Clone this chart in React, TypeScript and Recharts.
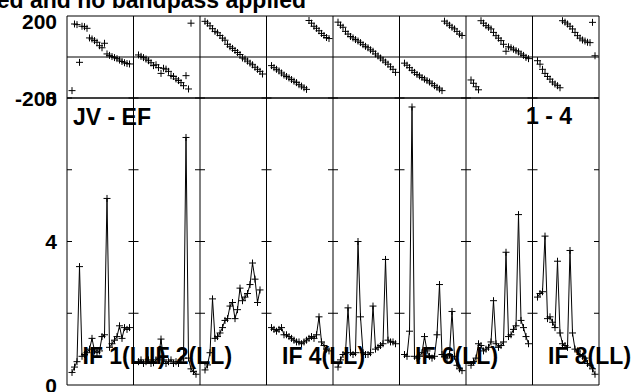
import React from 'react';
import { ComposedChart, Line, XAxis, YAxis, ReferenceLine } from 'recharts';

// ---- data ----
const IF_NAMES = ['IF 1(LL)', 'IF 2(LL)', 'IF 3(LL)', 'IF 4(LL)', 'IF 5(LL)', 'IF 6(LL)', 'IF 7(LL)', 'IF 8(LL)'];
const SHOWN_IF_LABELS = [0, 1, 3, 5, 7];
const BASELINE_LABEL = 'JV - EF';
const STOKES_LABEL = '1 - 4';
const TITLE_TEXT = 'ed and no bandpass applied';
const AMP_TICKS = [0, 4, 8];
const PHASE_TICKS = [-200, 200];

const AMP_IF1 = [0.35, 0.5, 0.65, 3.3, 0.8, 0.85, 0.9, 1.0, 1.3, 0.95, 0.9, 0.95, 1.35, 1.4, 5.2, 1.05, 1.15, 1.25, 1.35, 1.65, 1.3, 1.6, 1.55, 1.6];
const AMP_IF2 = [0.65, 0.7, 0.6, 0.65, 0.7, 0.6, 0.62, 0.7, 0.75, 1.28, 0.7, 0.6, 0.65, 0.7, 0.6, 0.65, 0.6, 0.7, 0.75, 6.9, 0.75, 0.45, 0.38, 0.3];
const AMP_IF3 = [0.42, 0.56, 0.9, 2.4, 1.3, 1.35, 1.45, 1.6, 1.8, 1.85, 2.2, 2.3, 1.85, 2.1, 2.7, 2.35, 2.45, 2.55, 2.8, 3.4, 2.95, 2.3, 2.65, null];
const AMP_IF4 = [1.6, 1.55, 1.5, 1.55, 1.6, 1.4, 1.4, 1.35, 1.3, 1.25, 1.2, 1.2, 1.15, 1.2, 1.25, 1.3, 1.35, 1.3, 1.4, 1.9, 1.2, 1.1, 1.0, 0.95];
const AMP_IF5 = [0.5, 0.7, 0.85, 0.9, 2.15, 0.9, 0.85, 0.9, 4.0, 1.9, 0.9, 0.85, 0.85, 0.9, 2.2, 1.0, 1.05, 1.1, 1.15, 3.5, 1.25, 1.2, 1.2, 1.15];
const AMP_IF6 = [0.85, 0.8, 1.5, 7.75, 0.8, 0.75, 0.8, 0.9, 1.35, 0.95, 0.8, 0.75, 0.8, 1.4, 2.8, 0.85, 0.8, 0.75, 0.85, 2.05, 0.8, 0.55, 0.45, 0.4];
const AMP_IF7 = [0.55, 0.65, 0.75, 1.15, 1.1, 0.95, 1.0, 1.05, 1.2, 2.35, 1.15, 1.05, 1.1, 1.2, 3.7, 1.35, 1.4, 1.55, 1.65, 4.75, 1.8, 1.6, 1.35, 1.15];
const AMP_IF8 = [2.45, 2.55, 2.6, 4.15, 1.85, 1.9, 1.75, 1.6, 3.45, 1.45, 1.15, 1.1, 1.05, 3.75, 1.45, 1.0, 0.95, 0.85, 0.8, 0.75, 0.6, 0.55, 0.45, 0.3];

const PH_IF1 = [-164, 161, 158, -26, 150, 148, 140, 93, 88, 80, 72, 55, 45, 67, 15, 8, 2, -3, -8, -15, -22, -28, -32, -34];
const PH_IF2 = [10, 3, -3, -10, -18, -28, -42, -38, -52, -80, -55, -59, -70, -91, -95, -107, -115, -125, -140, -91, -156, 165, null, null];
const PH_IF3 = [174, 165, 152, 138, 125, 118, 105, 92, 82, 62, 50, 42, 32, 22, 12, -5, -10, -20, -30, -38, -50, -60, -70, -83];
const PH_IF4 = [-42, -52, -60, -68, -78, -88, -95, -102, -110, -118, -125, -135, -142, -150, -158, 178, 165, 150, 140, 128, 115, 105, 95, 90];
const PH_IF5 = [170, 155, 145, 125, 112, 100, 93, 85, 78, 70, 60, 52, 45, 35, 28, 15, 5, -5, -15, -25, -35, -48, -60, -75];
const PH_IF6 = [-30, -40, -52, -65, -75, -85, -92, -100, -108, -115, -122, -130, -140, -148, -156, -164, 175, 165, 155, 145, 137, 125, 112, 105];
const PH_IF7 = [-112, -128, -145, -160, 177, 165, 153, 145, 137, 120, 104, 92, 80, 62, 28, 50, 45, 38, 31, 25, 15, 8, -2, -8];
const PH_IF8 = [-18, -35, -60, -80, -95, -108, -122, -132, -140, -150, 177, 170, 161, 150, 137, 120, 104, 92, 83, 78, 72, 70, 169, 6];

const AMP = [AMP_IF1, AMP_IF2, AMP_IF3, AMP_IF4, AMP_IF5, AMP_IF6, AMP_IF7, AMP_IF8];
const PHASE = [PH_IF1, PH_IF2, PH_IF3, PH_IF4, PH_IF5, PH_IF6, PH_IF7, PH_IF8];

// ---- layout ----
const W = 636;
const H = 392;
const N_IF = 8;
const PANEL = 26.6; // x units per IF panel
const CH0 = 2; // first channel position inside a panel
const XMAX = N_IF * PANEL;
const PANEL_TICKS = [8, 16, 24];
const X_TICKS = Array.from({ length: N_IF }, (_, i) => PANEL_TICKS.map((t) => i * PANEL + t)).flat();
const DIVIDERS = Array.from({ length: N_IF + 1 }, (_, i) => i * PANEL);
const FONT = "'Liberation Sans', Arial, Helvetica, sans-serif";

const series = (vals: (number | null)[], i: number) =>
  vals.map((v, c) => ({ x: i * PANEL + CH0 + c, y: v }));

const renderPlus = (p: any) => {
  const { cx, cy, index, value } = p;
  if (cx == null || cy == null || value == null || Number.isNaN(cy)) return <g key={`e${index}`} />;
  return (
    <path
      key={`p${index}`}
      d={`M${cx - 3.5},${cy}h7M${cx},${cy - 3.5}v7`}
      stroke="#000"
      strokeWidth={1}
      fill="none"
    />
  );
};

const AxisTick = (props: any) => {
  const { x, y, payload } = props;
  const v = payload.value;
  return (
    <text
      x={x}
      y={y + (v === 200 ? 5 : 0)}
      dy="0.36em"
      textAnchor="end"
      fontFamily={FONT}
      fontWeight="bold"
      fontSize={21}
      fill="#000"
    >
      {v}
    </text>
  );
};

const dividerTicks = (levels: number[]) =>
  DIVIDERS.flatMap((d, di) =>
    levels.map((lv) => (
      <ReferenceLine
        key={`dt${di}_${lv}`}
        xAxisId="b"
        segment={[
          { x: Math.max(0, d - 2), y: lv },
          { x: Math.min(XMAX, d + 2), y: lv },
        ]}
        stroke="#000"
        strokeWidth={1}
        ifOverflow="visible"
      />
    ))
  );

const dividerLines = () =>
  DIVIDERS.slice(1).map((d, di) => (
    <ReferenceLine key={`dv${di}`} xAxisId="b" x={d} stroke="#000" strokeWidth={1} ifOverflow="visible" />
  ));

const commonX = (id: string, orientation: 'top' | 'bottom') => (
  <XAxis
    xAxisId={id}
    type="number"
    dataKey="x"
    domain={[0, XMAX]}
    ticks={X_TICKS}
    interval={0}
    orientation={orientation}
    mirror
    height={1}
    tick={false}
    tickSize={5}
    tickLine={{ stroke: '#000' }}
    axisLine={{ stroke: '#000' }}
    allowDataOverflow
  />
);

export default function App() {
  return (
    <div style={{ position: 'absolute', left: 0, top: 0, width: W, height: H, background: '#fff', overflow: 'hidden' }}>
      {/* amplitude panels */}
      <div style={{ position: 'absolute', left: 0, top: 0 }}>
        <ComposedChart width={W} height={H} margin={{ top: 98, right: 37, bottom: 7, left: 7 }}>
          {commonX('b', 'bottom')}
          {commonX('t', 'top')}
          <YAxis
            type="number"
            domain={[0, 8]}
            ticks={AMP_TICKS}
            interval={0}
            width={60}
            tickLine={false}
            tickSize={6}
            tickMargin={4}
            axisLine={{ stroke: '#000' }}
            tick={<AxisTick />}
            allowDataOverflow
          />
          {dividerLines()}
          {dividerTicks([2, 4, 6, 8])}
          {AMP.map((vals, i) => (
            <Line
              key={`amp${i}`}
              xAxisId="b"
              data={series(vals, i)}
              dataKey="y"
              type="linear"
              stroke="#000"
              strokeWidth={1}
              dot={renderPlus}
              activeDot={false}
              isAnimationActive={false}
              name={IF_NAMES[i]}
            />
          ))}
        </ComposedChart>
      </div>
      {/* phase panels */}
      <div style={{ position: 'absolute', left: 0, top: 0 }}>
        <ComposedChart width={W} height={H} margin={{ top: 16, right: 37, bottom: 294, left: 7 }}>
          {commonX('b', 'bottom')}
          {commonX('t', 'top')}
          <YAxis
            type="number"
            domain={[-200, 200]}
            ticks={PHASE_TICKS}
            interval={0}
            width={60}
            tickLine={false}
            tickSize={6}
            tickMargin={4}
            axisLine={{ stroke: '#000' }}
            tick={<AxisTick />}
            allowDataOverflow
          />
          <ReferenceLine xAxisId="b" y={0} stroke="#000" strokeWidth={1} />
          {dividerLines()}
          {PHASE.map((vals, i) => (
            <Line
              key={`ph${i}`}
              xAxisId="b"
              data={series(vals, i)}
              dataKey="y"
              type="linear"
              stroke="none"
              dot={renderPlus}
              activeDot={false}
              isAnimationActive={false}
              name={IF_NAMES[i]}
            />
          ))}
        </ComposedChart>
      </div>
      {/* text labels */}
      <svg width={W} height={H} style={{ position: 'absolute', left: 0, top: 0, pointerEvents: 'none' }}>
        <g fontFamily={FONT} fontWeight="bold" fontSize={23} fill="#000">
          <text x={306} y={8} textAnchor="end">{TITLE_TEXT}</text>
          <text x={73} y={125}>{BASELINE_LABEL}</text>
          <text x={526} y={124}>{STOKES_LABEL}</text>
          {SHOWN_IF_LABELS.map((i) => (
            <text key={`lab${i}`} x={67 + i * 66.5 + 15.5} y={364}>{IF_NAMES[i]}</text>
          ))}
        </g>
      </svg>
    </div>
  );
}
